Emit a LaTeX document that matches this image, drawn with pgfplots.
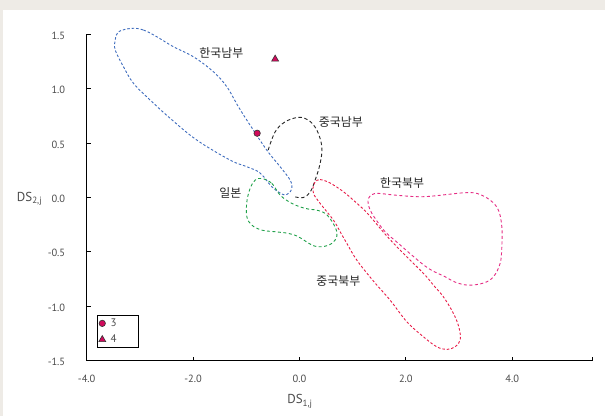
\documentclass[border=0pt]{standalone}
\usepackage{pgfplots}
\pgfplotsset{compat=1.18}
\usepackage{fontspec}
\setmainfont{PT Sans}
\newfontfamily\kr{Noto Sans CJK KR}
\definecolor{bg}{RGB}{238,235,230}
\definecolor{tgray}{RGB}{75,75,75}
\definecolor{cblue}{RGB}{62,108,190}
\definecolor{cgreen}{RGB}{30,160,72}
\definecolor{cred}{RGB}{232,28,72}
\definecolor{cpink}{RGB}{230,44,132}
\definecolor{cmark}{RGB}{208,10,92}
\pgfplotsset{smallmark legend/.style={legend image code/.code={\draw[mark repeat=2,mark phase=2,##1] plot coordinates {(0cm,0cm) (0.17cm,0cm) (0.34cm,0cm)};}}}
\newcommand\legtxt[1]{\makebox[27bp][l]{\hspace{3bp}\fontsize{11}{12}\selectfont #1}}
\begin{document}
\begin{tikzpicture}
\fill[bg] (-86.7bp,-55.5bp) rectangle (518.3bp,360.5bp);
\fill[white] (-83.7bp,-55.5bp) rectangle (518.3bp,350.8bp);
\begin{axis}[
  scale only axis, width=505.3bp, height=326.2bp,
  xmin=-4, xmax=5.5, ymin=-1.5, ymax=1.5,
  clip=false,
  axis x line=bottom, axis y line=left,
  axis line style={-, black, line width=0.8bp},
  xtick={-4,-2,0,2,4,5.5}, xticklabels={-4.0,-2.0,0.0,2.0,4.0,{}},
  ytick={-1.5,-1,-0.5,0,0.5,1,1.5}, yticklabels={-1.5,-1.0,-0.5,0.0,0.5,1.0,1.5},
  tick align=inside, major tick length=4bp,
  tick style={black, line width=0.8bp},
  tick label style={font=\fontsize{10.5}{12}\selectfont, text=tgray},
  x tick label style={yshift=-11bp},
  y tick label style={xshift=-18bp, yshift=-1.5bp},
  xlabel={DS\textsubscript{1,j}}, ylabel={DS\textsubscript{2,j}},
  xlabel style={at={(axis description cs:0.422,-0.133)}, anchor=base, font=\fontsize{13}{15}\selectfont, text=tgray},
  ylabel style={rotate=-90, at={(axis description cs:-0.1450,0.4870)}, anchor=base west, font=\fontsize{13}{15}\selectfont, text=tgray},
  legend style={at={(axis description cs:0.0204,0.1395)}, anchor=north west, draw=black, line width=0.6bp,
    font=\fontsize{11}{12}\selectfont, text=tgray, inner sep=1.5bp, row sep=3bp, cells={anchor=west}},
]
% 한국남부 (blue)
\addplot[forget plot, cblue, line width=0.9bp, dash pattern=on 2.5bp off 2bp, smooth cycle, tension=0.6] coordinates {
(-3.150,1.555) (-2.932,1.539) (-2.680,1.477) (-2.368,1.385) (-1.992,1.293) (-1.617,1.155)
(-1.365,1.017) (-1.147,0.833) (-0.927,0.664) (-0.613,0.434) (-0.363,0.282) (-0.175,0.159)
(-0.143,0.083) (-0.207,0.037) (-0.306,0.026) (-0.513,0.095) (-0.739,0.224) (-0.989,0.282)
(-1.303,0.343) (-1.929,0.527) (-2.430,0.727) (-2.806,0.895) (-3.120,1.049) (-3.308,1.201)
(-3.464,1.356) (-3.464,1.448) (-3.402,1.523)
};
% 중국남부 (black)
\addplot[forget plot, black!85, line width=0.9bp, dash pattern=on 3.5bp off 2.5bp, smooth, tension=0.6] coordinates {
(-0.588,0.435) (-0.457,0.603) (-0.269,0.695) (-0.019,0.736) (0.169,0.711) (0.327,0.619)
(0.421,0.466) (0.389,0.313) (0.295,0.159) (0.201,0.049) (0.070,-0.002) (-0.100,0.007)
};
% 일본 (green)
\addplot[forget plot, cgreen, line width=0.9bp, dash pattern=on 3bp off 2.5bp, smooth cycle, tension=0.6] coordinates {
(-0.707,0.174) (-0.519,0.129) (-0.363,0.021) (-0.143,-0.055) (0.107,-0.101) (0.357,-0.121)
(0.521,-0.163) (0.671,-0.273) (0.703,-0.356) (0.609,-0.423) (0.421,-0.454) (0.239,-0.439)
(-0.019,-0.362) (-0.207,-0.331) (-0.457,-0.316) (-0.707,-0.301) (-0.895,-0.255) (-0.989,-0.178)
(-0.989,-0.040) (-0.927,0.083) (-0.833,0.159)
};
% 중국북부 (red)
\addplot[forget plot, cred, line width=0.9bp, dash pattern=on 2.5bp off 2bp, smooth cycle, tension=0.6] coordinates {
(0.295,0.144) (0.389,0.164) (0.577,0.132) (0.827,0.052) (1.047,-0.040) (1.273,-0.144)
(1.611,-0.338) (1.861,-0.469) (2.113,-0.592) (2.363,-0.715) (2.519,-0.807) (2.707,-0.915)
(2.895,-1.067) (3.002,-1.202) (3.021,-1.313) (2.927,-1.374) (2.771,-1.398) (2.583,-1.374)
(2.331,-1.282) (2.019,-1.144) (1.705,-0.945) (1.391,-0.770) (1.079,-0.577) (0.891,-0.423)
(0.765,-0.316) (0.639,-0.209) (0.389,-0.055) (0.263,0.037) (0.263,0.113)
};
% 한국북부 (pink)
\addplot[forget plot, cpink, line width=0.9bp, dash pattern=on 3bp off 2.5bp, smooth cycle, tension=0.6] coordinates {
(1.297,-0.009) (1.367,0.026) (1.485,0.037) (1.799,0.021) (2.301,0.006) (2.801,0.028)
(3.083,0.042) (3.335,0.037) (3.585,-0.025) (3.741,-0.117) (3.805,-0.270) (3.805,-0.454)
(3.773,-0.607) (3.647,-0.730) (3.459,-0.788) (3.171,-0.807) (2.927,-0.779) (2.739,-0.730)
(2.425,-0.653) (2.113,-0.531) (1.861,-0.423) (1.611,-0.316) (1.423,-0.193) (1.329,-0.117)
(1.291,-0.052)
};
% markers
\addplot[only marks, mark=*, mark size=3.2bp, mark options={fill=cmark, draw=black!80, line width=0.6bp}, smallmark legend]
  coordinates {(-0.795,0.590)};
\addlegendentry{\legtxt{3}}
\addplot[only marks, mark=triangle*, mark size=4bp, mark options={fill=cmark, draw=black!80, line width=0.6bp}, smallmark legend]
  coordinates {(-0.457,1.272)};
\addlegendentry{\legtxt{4}}
% region labels
\begin{scope}[every node/.style={font=\kr\fontsize{12}{14}\selectfont, text=black!85}]
\node at (axis cs:-1.47,1.33) {한국남부};
\node at (axis cs:0.78,0.69) {중국남부};
\node at (axis cs:-1.30,0.04) {일본};
\node at (axis cs:1.93,0.13) {한국북부};
\node at (axis cs:0.73,-0.77) {중국북부};
\end{scope}
\end{axis}
\pgfresetboundingbox
\path (-86.7bp,-55.5bp) rectangle (518.3bp,360.5bp);
\end{tikzpicture}
\end{document}
